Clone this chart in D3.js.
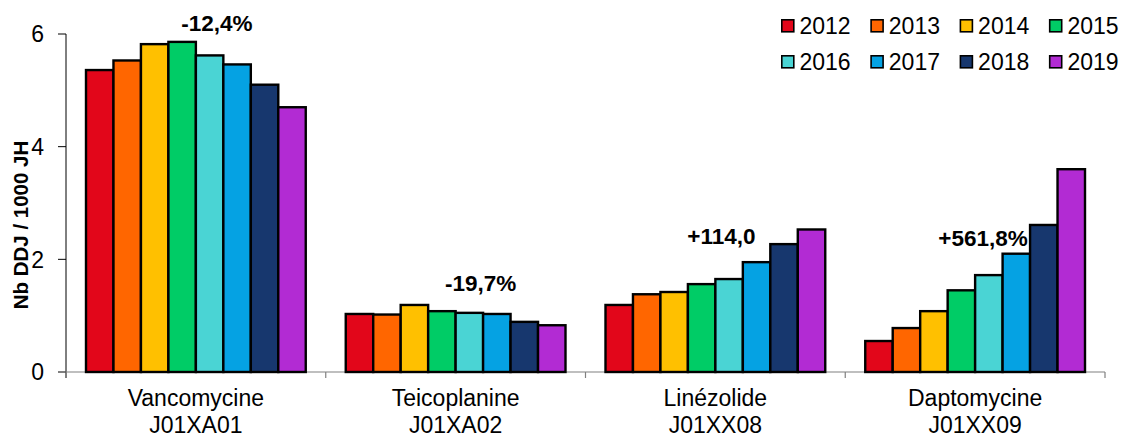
<!DOCTYPE html>
<html>
<head>
<meta charset="utf-8">
<script src="https://cdn.jsdelivr.net/npm/d3@7"></script>
<style>
  html, body { margin: 0; padding: 0; background: #fff; }
  svg { display: block; font-family: "Liberation Sans", Arial, sans-serif; }
</style>
</head>
<body>
<svg id="chart" width="1121" height="437"></svg>
<script>
// Antibiotic consumption (DDD per 1000 patient-days), 2012–2019
const drugs = ["Vancomycine", "Teicoplanine", "Linézolide", "Daptomycine"];
const atcCodes = ["J01XA01", "J01XA02", "J01XX08", "J01XX09"];
const years = ["2012", "2013", "2014", "2015", "2016", "2017", "2018", "2019"];

const vancomycine = [5.36, 5.53, 5.82, 5.86, 5.62, 5.46, 5.10, 4.70];
const teicoplanine = [1.03, 1.02, 1.19, 1.08, 1.05, 1.03, 0.89, 0.83];
const linezolide = [1.19, 1.38, 1.42, 1.56, 1.65, 1.95, 2.27, 2.53];
const daptomycine = [0.55, 0.78, 1.08, 1.45, 1.72, 2.10, 2.61, 3.60];

const changeLabels = ["-12,4%", "-19,7%", "+114,0", "+561,8%"];
const yTicks = [0, 2, 4, 6];

const colors = ["#e2061a", "#ff6600", "#ffc000", "#00cc66", "#4ad4d4", "#05a2e3", "#17376e", "#b22bd3"];

const seriesByDrug = [vancomycine, teicoplanine, linezolide, daptomycine];

const svg = d3.select("#chart");
const plot = { left: 66, right: 1105, top: 34, bottom: 372 };

const y = d3.scaleLinear().domain([0, 6]).range([plot.bottom, plot.top]);
const x = d3.scaleBand().domain(drugs).range([plot.left, plot.right]).padding(0);
const inner = d3.scaleBand().domain(years)
  .range([20, x.bandwidth() - 20]).padding(0);

// Percentage-change annotations (drawn beneath the bars)
const labelPos = [
  { anchor: "middle", dx: x.bandwidth() / 2 + 21, v: 6.05 },
  { anchor: "middle", dx: x.bandwidth() / 2 + 25, v: 1.44 },
  { anchor: "middle", dx: x.bandwidth() / 2 + 6, v: 2.28 },
  { anchor: "start", dx: 93, v: 2.23 }
];
svg.append("g").selectAll("text")
  .data(drugs)
  .join("text")
  .attr("x", (d, i) => x(d) + labelPos[i].dx)
  .attr("y", (d, i) => y(labelPos[i].v))
  .attr("text-anchor", (d, i) => labelPos[i].anchor)
  .attr("font-size", 22.5)
  .attr("font-weight", "bold")
  .attr("fill", "#000")
  .text((d, i) => changeLabels[i]);

// Y axis
const yAxis = svg.append("g");
yAxis.append("line")
  .attr("x1", plot.left).attr("x2", plot.left)
  .attr("y1", y(6)).attr("y2", plot.bottom + 6)
  .attr("stroke", "#000").attr("stroke-width", 1);
yAxis.selectAll("line.tick")
  .data(yTicks)
  .join("line")
  .attr("class", "tick")
  .attr("x1", plot.left - 8).attr("x2", plot.left)
  .attr("y1", d => y(d)).attr("y2", d => y(d))
  .attr("stroke", "#000").attr("stroke-width", 1);
yAxis.selectAll("text")
  .data(yTicks)
  .join("text")
  .attr("x", 44)
  .attr("y", d => y(d))
  .attr("dy", "0.36em")
  .attr("text-anchor", "end")
  .attr("font-size", 23)
  .attr("fill", "#000")
  .text(d => d);

// X axis baseline and category separators
const xAxis = svg.append("g");
xAxis.append("line")
  .attr("x1", plot.left - 8).attr("x2", plot.right)
  .attr("y1", plot.bottom).attr("y2", plot.bottom)
  .attr("stroke", "#808080").attr("stroke-width", 1.2);
xAxis.selectAll("line.sep")
  .data(drugs.slice(1).concat(["end"]))
  .join("line")
  .attr("class", "sep")
  .attr("x1", (d, i) => plot.left + (i + 1) * x.bandwidth())
  .attr("x2", (d, i) => plot.left + (i + 1) * x.bandwidth())
  .attr("y1", plot.bottom).attr("y2", plot.bottom + 6)
  .attr("stroke", "#808080").attr("stroke-width", 1.2);

// Bars
const groups = svg.append("g").selectAll("g")
  .data(drugs)
  .join("g")
  .attr("transform", d => `translate(${x(d)},0)`);
groups.selectAll("rect")
  .data((d, i) => seriesByDrug[i].map((v, j) => ({ year: years[j], v, c: colors[j] })))
  .join("rect")
  .attr("x", d => inner(d.year))
  .attr("y", d => y(d.v))
  .attr("width", inner.bandwidth())
  .attr("height", d => plot.bottom - y(d.v))
  .attr("fill", d => d.c)
  .attr("stroke", "#000")
  .attr("stroke-width", 2.4);

// Category labels (name + ATC code)
const cat = svg.append("g").selectAll("text")
  .data(drugs)
  .join("text")
  .attr("x", d => x(d) + x.bandwidth() / 2)
  .attr("text-anchor", "middle")
  .attr("font-size", 23)
  .attr("fill", "#000");
cat.append("tspan").attr("x", d => x(d) + x.bandwidth() / 2).attr("y", 406).text(d => d);
cat.append("tspan").attr("x", d => x(d) + x.bandwidth() / 2).attr("y", 433).text((d, i) => atcCodes[i]);

// Y axis title
svg.append("text")
  .attr("transform", "translate(28,225) rotate(-90)")
  .attr("text-anchor", "middle")
  .attr("font-size", 20.5)
  .attr("font-weight", "bold")
  .attr("fill", "#000")
  .text("Nb DDJ / 1000 JH");

// Legend: two rows of four
const legend = svg.append("g").selectAll("g")
  .data(years)
  .join("g")
  .attr("transform", (d, i) => `translate(${781 + (i % 4) * 89.3},${19 + Math.floor(i / 4) * 36})`);
legend.append("rect")
  .attr("x", 0.8).attr("y", 0.8)
  .attr("width", 12).attr("height", 12)
  .attr("fill", (d, i) => colors[i])
  .attr("stroke", "#000").attr("stroke-width", 1.6);
legend.append("text")
  .attr("x", 18.5).attr("y", 14.5)
  .attr("font-size", 23)
  .attr("fill", "#000")
  .text(d => d);
</script>
</body>
</html>
